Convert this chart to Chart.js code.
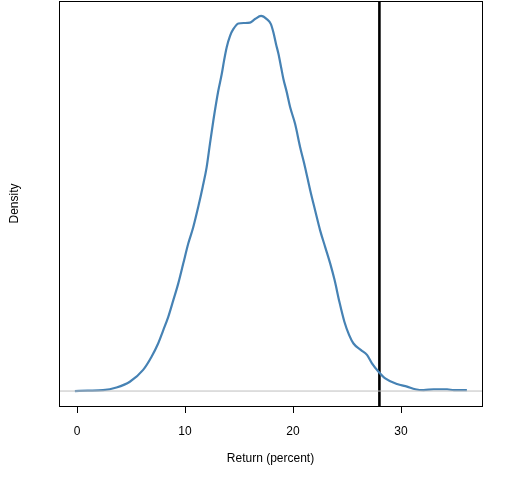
<!DOCTYPE html>
<html>
<head>
<meta charset="utf-8">
<script src="https://cdn.jsdelivr.net/npm/chart.js@4"></script>
<style>
html,body{margin:0;padding:0;background:#fff;}
#wrap{width:512px;height:480px;}
</style>
</head>
<body>
<div id="wrap"><canvas id="c" width="512" height="480"></canvas></div>
<script>
// Return (percent) values along the density curve
const returnX = [-0.2, 1.0, 2.4, 3.65, 4.89, 6.12, 6.9, 7.51, 7.98, 8.44, 8.91, 9.37, 9.83, 10.3, 10.76, 11.22, 11.63, 12.0, 12.31, 12.62, 13.08, 13.4, 13.61, 13.86, 14.17, 14.47, 14.94, 15.5, 16.02, 16.48, 17.04, 17.57, 17.94, 18.18, 18.43, 18.65, 18.9, 19.11, 19.42, 19.73, 20.19, 20.66, 21.12, 21.59, 22.05, 22.51, 22.98, 23.44, 23.85, 24.3, 24.75, 25.2, 25.6, 26.3, 26.85, 27.31, 27.92, 28.54, 29.63, 30.56, 31.33, 32.1, 33.03, 34.27, 34.9, 36.1];
// Estimated density
const densityY = [0, 0.0001, 0.0002, 0.0008, 0.0021, 0.0048, 0.0078, 0.0108, 0.0138, 0.0168, 0.0206, 0.0244, 0.0289, 0.0335, 0.0372, 0.0418, 0.0463, 0.0508, 0.0562, 0.0614, 0.0682, 0.0720, 0.0750, 0.0781, 0.0807, 0.0822, 0.0835, 0.0836, 0.0837, 0.0845, 0.0852, 0.0845, 0.0834, 0.0815, 0.0788, 0.0766, 0.0735, 0.0709, 0.0679, 0.0645, 0.0607, 0.0554, 0.0508, 0.0456, 0.0410, 0.0365, 0.0327, 0.0290, 0.0252, 0.0202, 0.0158, 0.0127, 0.0108, 0.0093, 0.0082, 0.0063, 0.0044, 0.0029, 0.0016, 0.0010, 0.0004, 0.0002, 0.0004, 0.0004, 0.0002, 0.0002];
const markerReturn = 28;
const xTickValues = [0, 10, 20, 30];
const xMin = -1.67, xMax = 37.5;
const yMin = -0.0034, yMax = 0.0886;

const curve = returnX.map((x, i) => ({x: x, y: densityY[i]}));

const boxPlugin = {
  id: 'box',
  afterDraw(chart) {
    const {ctx, chartArea: a} = chart;
    ctx.save();
    ctx.strokeStyle = '#000';
    ctx.lineWidth = 1;
    ctx.strokeRect(Math.round(a.left) + 0.5, Math.round(a.top) + 0.5, Math.round(a.right - a.left), Math.round(a.bottom - a.top));
    ctx.restore();
  }
};

new Chart(document.getElementById('c'), {
  type: 'scatter',
  data: {
    datasets: [
      {
        data: [{x: xMin, y: 0}, {x: xMax, y: 0}],
        showLine: true, borderColor: '#bebebe', borderWidth: 1, pointRadius: 0
      },
      {
        data: curve,
        showLine: true, borderColor: '#4682b4', borderWidth: 2.2, pointRadius: 0,
        cubicInterpolationMode: 'monotone'
      },
      {
        data: [{x: markerReturn, y: yMin}, {x: markerReturn, y: yMax}],
        showLine: true, borderColor: '#000', borderWidth: 2.6, pointRadius: 0
      }
    ]
  },
  options: {
    responsive: false,
    animation: false,
    devicePixelRatio: 1,
    layout: {padding: {left: 0, right: 30, top: 1, bottom: 0}},
    plugins: {legend: {display: false}, tooltip: {enabled: false}},
    scales: {
      x: {
        type: 'linear', min: xMin, max: xMax,
        afterBuildTicks(s) { s.ticks = xTickValues.map(v => ({value: v})); },
        afterFit(s) { s.height = 74; },
        grid: {display: true, drawOnChartArea: false, drawTicks: true, tickLength: 7, color: '#000', lineWidth: 1},
        border: {display: false},
        ticks: {color: '#000', font: {family: 'Liberation Sans', size: 12}, padding: 11, maxRotation: 0},
        title: {display: true, text: 'Return (percent)', color: '#000', font: {family: 'Liberation Sans', size: 12}, padding: {top: 0, bottom: 14}}
      },
      y: {
        type: 'linear', min: yMin, max: yMax,
        afterFit(s) { s.width = 59; },
        grid: {display: false},
        border: {display: false},
        ticks: {display: false},
        title: {display: true, text: 'Density', color: '#000', font: {family: 'Liberation Sans', size: 12}, padding: {top: 7, bottom: 0}}
      }
    }
  },
  plugins: [boxPlugin]
});
</script>
</body>
</html>
